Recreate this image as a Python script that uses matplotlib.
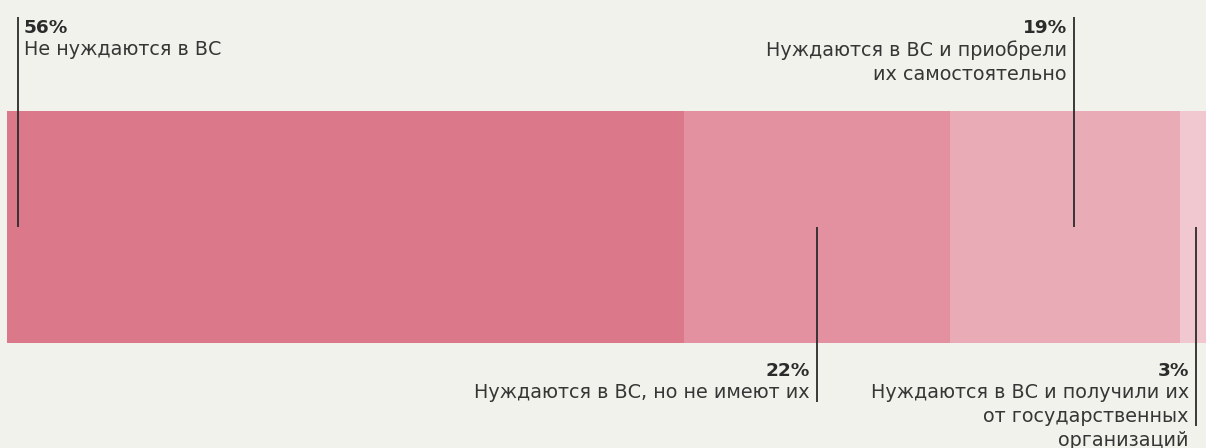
import matplotlib.pyplot as plt

shares = [56, 22, 19, 3]
pct_labels = ["56%", "22%", "19%", "3%"]
descriptions = [
    "Не нуждаются в ВС",
    "Нуждаются в ВС, но не имеют их",
    "Нуждаются в ВС и приобрели\nих самостоятельно",
    "Нуждаются в ВС и получили их\nот государственных\nорганизаций",
]
colors = ["#db7889", "#e391a0", "#e9acb7", "#f1c8cf"]
# where the leader line meets each segment (fraction of its width)
anchor = [0.016, 0.5, 0.54, 0.45]

bg = "#f2f2ec"
ink = "#2b2b2b"
px_per_pct = 12.09

fig = plt.figure(figsize=(12.06, 4.48), dpi=100, facecolor=bg)
ax = fig.add_axes([0, 0, 1, 1])
ax.set_facecolor(bg)
ax.set_xlim(-7 / px_per_pct, (1206 - 7) / px_per_pct)
ax.set_ylim(448, 0)
ax.axis("off")

lefts = [sum(shares[:i]) for i in range(len(shares))]
ax.barh(227, shares, left=lefts, height=232, color=colors, linewidth=0)

font = "DejaVu Sans"
fs = 13.8
for i, (pct, desc) in enumerate(zip(pct_labels, descriptions)):
    x = lefts[i] + shares[i] * anchor[i]
    top = i in (0, 2)
    nlines = desc.count("\n") + 1
    py = 28 if top else 371
    if top:
        y0, y1 = 17, 227
    else:
        y0, y1 = 227, py + 9 + 23 * min(nlines, 2) - (1 if nlines == 1 else 0)
    ax.plot([x, x], [y0, y1], color=ink, lw=1.3, solid_capstyle="butt")
    if i == 0:
        tx, ha = x + 0.5, "left"
    else:
        tx, ha = x - 0.6, "right"
    ax.text(tx, py, pct, ha=ha, va="center", fontsize=13.3, fontweight="bold",
            family=font, color=ink)
    ax.text(tx, py + 12, desc, ha=ha, va="top", fontsize=fs, family=font,
            color="#363636", linespacing=1.33, multialignment=ha)

fig.savefig("out.png", dpi=100, facecolor=bg)
